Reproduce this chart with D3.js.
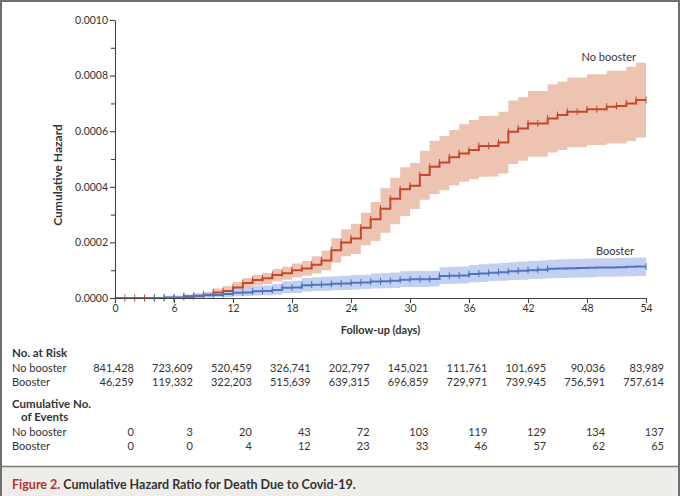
<!DOCTYPE html>
<html>
<head>
<meta charset="utf-8">
<script src="https://cdn.jsdelivr.net/npm/d3@7"></script>
<style>
  body { margin: 0; background: #fff; }
  svg text { font-family: Lato, "Open Sans", sans-serif; fill: #333; }
</style>
</head>
<body>
<div id="chart"></div>
<script>
// follow-up day index for each step (value holds from day d to d+1)
const days = d3.range(0, 55);

// no booster: cumulative hazard and 95% band
const noBoosterHaz = [0, 0, 0, 0, 0, 0, 0, 0.000006, 0.000008, 0.000012,
  0.000020, 0.000025, 0.000038, 0.000054, 0.000065, 0.000071, 0.000083, 0.000089, 0.000100, 0.000106,
  0.000120, 0.000135, 0.000172, 0.000200, 0.000214, 0.000253, 0.000283, 0.000321, 0.000357, 0.000391,
  0.000404, 0.000442, 0.000472, 0.000487, 0.000506, 0.000520, 0.000532, 0.000547, 0.000547, 0.000559,
  0.000598, 0.000610, 0.000628, 0.000628, 0.000646, 0.000658, 0.000670, 0.000670, 0.000679, 0.000679,
  0.000688, 0.000691, 0.000700, 0.000712, 0.000712];
const noBoosterLo = [0, 0, 0, 0, 0, 0, 0, 0.000002, 0.000002, 0.000004,
  0.000008, 0.000012, 0.000020, 0.000034, 0.000045, 0.000050, 0.000060, 0.000066, 0.000075, 0.000080,
  0.000088, 0.000100, 0.000128, 0.000150, 0.000158, 0.000190, 0.000205, 0.000235, 0.000265, 0.000295,
  0.000320, 0.000353, 0.000374, 0.000388, 0.000406, 0.000418, 0.000427, 0.000436, 0.000437, 0.000448,
  0.000482, 0.000494, 0.000508, 0.000508, 0.000523, 0.000532, 0.000542, 0.000542, 0.000550, 0.000550,
  0.000556, 0.000556, 0.000565, 0.000577, 0.000577];
const noBoosterHi = [0, 0, 0, 0, 0, 0, 0, 0.000012, 0.000016, 0.000022,
  0.000034, 0.000042, 0.000058, 0.000072, 0.000084, 0.000090, 0.000104, 0.000112, 0.000124, 0.000133,
  0.000150, 0.000170, 0.000215, 0.000247, 0.000267, 0.000307, 0.000345, 0.000395, 0.000433, 0.000470,
  0.000486, 0.000530, 0.000566, 0.000583, 0.000604, 0.000625, 0.000640, 0.000655, 0.000656, 0.000670,
  0.000710, 0.000722, 0.000745, 0.000745, 0.000769, 0.000778, 0.000793, 0.000793, 0.000805, 0.000805,
  0.000817, 0.000817, 0.000832, 0.000846, 0.000846];

// booster: cumulative hazard and 95% band
const boosterHaz = [0, 0, 0, 0, 0, 0.000002, 0.000002, 0.000004, 0.000006, 0.000010,
  0.000011, 0.000014, 0.000019, 0.000020, 0.000024, 0.000025, 0.000029, 0.000037, 0.000038, 0.000046,
  0.000048, 0.000049, 0.000051, 0.000052, 0.000055, 0.000056, 0.000059, 0.000060, 0.000062, 0.000066,
  0.000067, 0.000067, 0.000068, 0.000079, 0.000080, 0.000081, 0.000086, 0.000088, 0.000091, 0.000093,
  0.000096, 0.000098, 0.000100, 0.000102, 0.000105, 0.000106, 0.000107, 0.000108, 0.000109, 0.000110,
  0.000110, 0.000111, 0.000112, 0.000113, 0.000113];
const boosterLo = [0, 0, 0, 0, 0, 0, 0, 0, 0.000001, 0.000002,
  0.000003, 0.000004, 0.000006, 0.000007, 0.000009, 0.000010, 0.000012, 0.000017, 0.000018, 0.000023,
  0.000025, 0.000026, 0.000028, 0.000029, 0.000031, 0.000032, 0.000034, 0.000035, 0.000036, 0.000040,
  0.000040, 0.000040, 0.000041, 0.000050, 0.000051, 0.000052, 0.000057, 0.000058, 0.000061, 0.000062,
  0.000065, 0.000066, 0.000068, 0.000069, 0.000071, 0.000072, 0.000073, 0.000074, 0.000075, 0.000076,
  0.000076, 0.000077, 0.000078, 0.000079, 0.000079];
const boosterHi = [0, 0, 0, 0, 0, 0.000008, 0.000009, 0.000012, 0.000016, 0.000022,
  0.000024, 0.000030, 0.000036, 0.000038, 0.000043, 0.000045, 0.000050, 0.000060, 0.000062, 0.000072,
  0.000075, 0.000076, 0.000078, 0.000080, 0.000083, 0.000084, 0.000088, 0.000090, 0.000092, 0.000096,
  0.000097, 0.000097, 0.000098, 0.000111, 0.000112, 0.000113, 0.000119, 0.000121, 0.000124, 0.000126,
  0.000129, 0.000131, 0.000133, 0.000135, 0.000138, 0.000139, 0.000140, 0.000141, 0.000142, 0.000143,
  0.000143, 0.000144, 0.000145, 0.000146, 0.000146];

// censoring marks
const noBoosterMarks = d3.range(1, 55);
const boosterMarks = d3.range(4, 45).concat([54]);

// axis ticks
const xTicks = [0, 6, 12, 18, 24, 30, 36, 42, 48, 54];
const yTicks = [0, 0.0002, 0.0004, 0.0006, 0.0008, 0.0010];
const yMinorTicks = [0.0001, 0.0003, 0.0005, 0.0007, 0.0009];

// table below the chart, one column per x tick
const noBoosterRisk = ['841,428', '723,609', '520,459', '326,741', '202,797', '145,021', '111,761', '101,695', '90,036', '83,989'];
const boosterRisk = ['46,259', '119,332', '322,203', '515,639', '639,315', '696,859', '729,971', '739,945', '756,591', '757,614'];
const noBoosterEvents = [0, 3, 20, 43, 72, 103, 119, 129, 134, 137];
const boosterEvents = [0, 0, 4, 12, 23, 33, 46, 57, 62, 65];

const width = 680, height = 496;
const red = '#c5482c', redBand = '#edc3b1';
const blue = '#4c75c3', blueBand = '#bccbed';

const svg = d3.select('#chart').append('svg')
  .attr('width', width)
  .attr('height', height);

const x = d3.scaleLinear().domain([0, 54]).range([115, 646]);
const y = d3.scaleLinear().domain([0, 0.001]).range([298, 20]);

// bands
function band(lo, hi) {
  return d3.area()
    .curve(d3.curveStepAfter)
    .x(d => x(d))
    .y0(d => y(lo[d]))
    .y1(d => y(hi[d]));
}
function line(vals) {
  return d3.line()
    .curve(d3.curveStepAfter)
    .x(d => x(d))
    .y(d => y(vals[d]));
}

svg.append('path').datum(days)
  .attr('fill', redBand)
  .attr('d', band(noBoosterLo, noBoosterHi));
svg.append('path').datum(days)
  .attr('fill', blueBand)
  .attr('fill-opacity', 0.9)
  .attr('d', band(boosterLo, boosterHi));

// step lines with censor marks
function drawCurve(vals, marks, color) {
  svg.append('path').datum(days)
    .attr('fill', 'none')
    .attr('stroke', color)
    .attr('stroke-width', 2)
    .attr('d', line(vals));
  svg.append('g').selectAll('line').data(marks).enter()
    .append('line')
    .attr('x1', d => x(d))
    .attr('x2', d => x(d))
    .attr('y1', d => y(vals[d]) - 3.5)
    .attr('y2', d => y(vals[d]) + 3.5)
    .attr('stroke', color)
    .attr('stroke-width', 1);
}
drawCurve(noBoosterHaz, noBoosterMarks, red);
drawCurve(boosterHaz, boosterMarks, blue);

// axes
const axisColor = '#444';
svg.append('g')
  .attr('transform', `translate(${x(0)},0)`)
  .call(d3.axisLeft(y).tickValues(yTicks).tickFormat(d3.format('.4f')).tickSize(5).tickSizeOuter(0).tickPadding(2));
svg.append('g')
  .attr('transform', `translate(${x(0)},0)`)
  .call(d3.axisLeft(y).tickValues(yMinorTicks).tickFormat('').tickSize(4).tickSizeOuter(0))
  .call(g => g.select('.domain').remove());
svg.append('g')
  .attr('transform', `translate(0,${y(0)})`)
  .call(d3.axisBottom(x).tickValues(xTicks).tickSize(5).tickSizeOuter(0).tickPadding(2));

svg.selectAll('.domain, .tick line').attr('stroke', axisColor).attr('stroke-width', 1.1);
svg.selectAll('.tick text')
  .style('font-family', 'Lato, "Open Sans", sans-serif')
  .style('font-size', '10.5px')
  .attr('fill', '#333');

// axis titles
svg.append('text')
  .attr('transform', 'translate(62,175) rotate(-90)')
  .attr('text-anchor', 'middle')
  .style('font-size', '12px')
  .style('font-weight', 'bold')
  .text('Cumulative Hazard');
svg.append('text')
  .attr('x', x(27))
  .attr('y', 334)
  .attr('text-anchor', 'middle')
  .style('font-size', '11px')
  .style('font-weight', 'bold')
  .text('Follow-up (days)');

// series labels
svg.append('text')
  .attr('x', 636).attr('y', 61)
  .attr('text-anchor', 'end')
  .style('font-size', '11px')
  .text('No booster');
svg.append('text')
  .attr('x', 634).attr('y', 255)
  .attr('text-anchor', 'end')
  .style('font-size', '11px')
  .text('Booster');

// table
const col = d3.scaleLinear().domain([0, 54]).range([134, 664]);
const table = svg.append('g').style('font-size', '11px');
function heading(txt, tx, ty) {
  table.append('text').attr('x', tx).attr('y', ty)
    .style('font-weight', 'bold').style('font-size', '11.5px').text(txt);
}
function row(label, vals, ty) {
  table.append('text').attr('x', 12).attr('y', ty).text(label);
  table.append('g').selectAll('text').data(vals).enter()
    .append('text')
    .attr('x', (d, i) => col(xTicks[i]))
    .attr('y', ty)
    .attr('text-anchor', 'end')
    .text(d => d);
}
heading('No. at Risk', 12, 357);
row('No booster', noBoosterRisk, 372);
row('Booster', boosterRisk, 385.5);
heading('Cumulative No.', 12, 407.5);
heading('of Events', 21, 421);
row('No booster', noBoosterEvents, 435.5);
row('Booster', boosterEvents, 449.5);

// caption strip
svg.append('rect')
  .attr('x', 1).attr('y', 467)
  .attr('width', 678).attr('height', 29)
  .attr('fill', '#efedea');
svg.append('line')
  .attr('x1', 0).attr('x2', width)
  .attr('y1', 466.5).attr('y2', 466.5)
  .attr('stroke', '#7a7a7a').attr('stroke-width', 1.5);
const cap = svg.append('text')
  .attr('x', 12).attr('y', 489)
  .style('font-size', '12.5px')
  .style('font-weight', 'bold');
cap.append('tspan').style('fill', '#b8312f').text('Figure 2.');
cap.append('tspan').text(' Cumulative Hazard Ratio for Death Due to Covid-19.');

// frame
svg.append('rect')
  .attr('x', 1).attr('y', 1)
  .attr('width', 678).attr('height', 496)
  .attr('fill', 'none')
  .attr('stroke', '#707070')
  .attr('stroke-width', 2);
</script>
</body>
</html>
